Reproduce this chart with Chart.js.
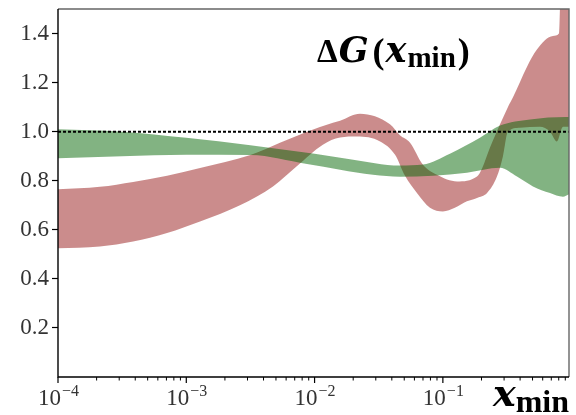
<!DOCTYPE html>
<html>
<head>
<meta charset="utf-8">
<script src="https://cdn.jsdelivr.net/npm/chart.js@4.4.1/dist/chart.umd.min.js"></script>
<style>
  html, body { margin: 0; padding: 0; background: #fff; }
  #wrap { width: 576px; height: 415px; }
</style>
</head>
<body>
<div id="wrap"><canvas id="chart" width="576" height="415"></canvas></div>
<script>
// ── Datos ───────────────────────────────────────────────────
const X_MIN = 1e-4;
const X_MAX = 0.962;

// banda verde: borde superior / inferior
const GREEN_UP_X = [1e-4, 3.16e-4, 1e-3, 3.16e-3, 0.01, 0.0189, 0.0463, 0.070, 0.1135, 0.1945, 0.279, 0.478, 0.91, 0.962];
const GREEN_UP_Y = [1.01, 1.0, 0.975, 0.945, 0.91, 0.888, 0.862, 0.866, 0.91, 0.975, 1.025, 1.05, 1.06, 1.06];
const GREEN_LO_X = [1e-4, 3.16e-4, 1e-3, 3.16e-3, 8.73e-3, 0.0158, 0.0285, 0.0463, 0.0838, 0.154, 0.279, 0.378, 0.504, 0.684, 0.863, 0.962];
const GREEN_LO_Y = [0.892, 0.90, 0.906, 0.905, 0.868, 0.845, 0.824, 0.816, 0.82, 0.833, 0.853, 0.817, 0.777, 0.75, 0.735, 0.745];

// banda roja: borde superior / inferior
const RED_UP_X = [1e-4, 2.12e-4, 3.85e-4, 7.08e-4, 1.28e-3, 3.16e-3, 5.37e-3, 8.73e-3, 0.0139, 0.0158, 0.0226, 0.0387, 0.0463, 0.0555, 0.070, 0.090, 0.129, 0.1845, 0.202, 0.233, 0.279, 0.321, 0.352, 0.453, 0.541, 0.721, 0.803, 0.832, 0.962];
const RED_UP_Y = [0.765, 0.775, 0.795, 0.82, 0.852, 0.905, 0.955, 1.0, 1.036, 1.045, 1.073, 1.03, 0.985, 0.955, 0.865, 0.824, 0.797, 0.817, 0.85, 0.935, 1.03, 1.1, 1.14, 1.265, 1.335, 1.39, 1.4, 1.6, 1.6];
const RED_LO_X = [1e-4, 2.12e-4, 3.85e-4, 7.08e-4, 1.28e-3, 2.62e-3, 4.74e-3, 7.3e-3, 0.0116, 0.0158, 0.0214, 0.0324, 0.0424, 0.0507, 0.0628, 0.0793, 0.10, 0.124, 0.154, 0.1845, 0.221, 0.264, 0.294, 0.321, 0.399, 0.571, 0.684, 0.774, 0.863, 0.962];
const RED_LO_Y = [0.525, 0.532, 0.552, 0.587, 0.634, 0.70, 0.777, 0.86, 0.947, 0.976, 0.98, 0.96, 0.906, 0.82, 0.75, 0.69, 0.675, 0.69, 0.716, 0.73, 0.75, 0.817, 0.9, 1.0, 1.016, 1.02, 1.0, 0.96, 1.02, 1.02];

// ejes
const Y_TICKS = [0.2, 0.4, 0.6, 0.8, 1.0, 1.2, 1.4];
const X_MAJOR = [1e-4, 1e-3, 1e-2, 1e-1];
const X_EXP   = ['\u22124', '\u22123', '\u22122', '\u22121'];
const REF_Y   = 1.0;

const RED   = 'rgba(139,0,0,0.45)';
const GREEN = 'rgba(0,100,0,0.49)';
const SERIF = '"Liberation Serif", "DejaVu Serif", serif';
const MATH  = '"DejaVu Serif", serif';

const pts = (xs, ys) => xs.map((x, i) => ({ x, y: ys[i] }));

// ── Marco, ticks del eje x y textos ─────────────────────────
const decoPlugin = {
  id: 'deco',
  afterDatasetsDraw(chart) {
    const { ctx, chartArea: a, scales: { x } } = chart;
    ctx.save();

    // marco: arriba/derecha gris, izquierda/abajo negro
    ctx.lineWidth = 1.4;
    ctx.strokeStyle = '#666';
    ctx.beginPath();
    ctx.moveTo(a.left, a.top); ctx.lineTo(a.right, a.top); ctx.lineTo(a.right, a.bottom);
    ctx.stroke();
    ctx.strokeStyle = '#000';
    ctx.beginPath();
    ctx.moveTo(a.left, a.top); ctx.lineTo(a.left, a.bottom); ctx.lineTo(a.right, a.bottom);
    ctx.stroke();

    // ticks menores y mayores del eje logarítmico
    ctx.lineWidth = 1;
    ctx.beginPath();
    X_MAJOR.forEach(d => {
      for (let k = 2; k <= 9; k++) {
        const v = k * d;
        if (v > X_MAX) break;
        const px = x.getPixelForValue(v);
        ctx.moveTo(px, a.bottom); ctx.lineTo(px, a.bottom + 3.5);
      }
    });
    ctx.stroke();
    ctx.lineWidth = 1.2;
    ctx.beginPath();
    X_MAJOR.forEach(v => {
      const px = x.getPixelForValue(v);
      ctx.moveTo(px, a.bottom); ctx.lineTo(px, a.bottom + 6);
    });
    ctx.stroke();

    // etiquetas 10^n
    ctx.fillStyle = '#333';
    ctx.textBaseline = 'alphabetic';
    ctx.textAlign = 'left';
    X_MAJOR.forEach((v, i) => {
      const px = x.getPixelForValue(v);
      ctx.font = '23px ' + SERIF;
      const w1 = ctx.measureText('10').width;
      ctx.font = '16px ' + SERIF;
      const w2 = ctx.measureText(X_EXP[i]).width;
      const x0 = px - (w1 + w2) / 2;
      ctx.font = '23px ' + SERIF;
      ctx.fillText('10', x0, a.bottom + 28);
      ctx.font = '16px ' + SERIF;
      ctx.fillText(X_EXP[i], x0 + w1 + 1, a.bottom + 19);
    });

    // título ΔG(x_min)
    ctx.fillStyle = '#000';
    let cx = a.left + 259;
    const by = a.top + 53;
    const put = (t, font, dy = 0, gap = 0) => {
      ctx.font = font;
      ctx.fillText(t, cx, by + dy);
      cx += ctx.measureText(t).width + gap;
    };
    put('\u0394', 'bold 33px ' + SERIF, 0, 1);
    put('G', 'bold italic 35px ' + MATH, 0, 4);
    put('(', 'bold 36px ' + SERIF, 1, 1);
    put('x', 'bold italic 35px ' + MATH, 0, 1);
    put('min', 'bold 29px ' + SERIF, 5, 2);
    put(')', 'bold 36px ' + SERIF, 1);

    // etiqueta del eje x
    cx = a.left + 435;
    const ly = a.bottom + 29;
    ctx.font = 'bold italic 38px ' + MATH;
    ctx.fillText('x', cx, ly);
    cx += ctx.measureText('x').width;
    ctx.font = 'bold 32px ' + SERIF;
    ctx.fillText('min', cx, ly + 6);

    ctx.restore();
  }
};

const chart = new Chart(document.getElementById('chart'), {
  type: 'line',
  data: {
    datasets: [
      {
        label: 'ref',
        data: [{ x: X_MIN, y: REF_Y }, { x: X_MAX, y: REF_Y }],
        borderColor: '#000', borderWidth: 2, borderDash: [3, 2],
        pointRadius: 0, fill: false
      },
      {
        label: 'verde sup',
        data: pts(GREEN_UP_X, GREEN_UP_Y),
        borderColor: 'transparent', borderWidth: 0, pointRadius: 0,
        backgroundColor: GREEN, fill: '+1', cubicInterpolationMode: 'monotone'
      },
      {
        label: 'verde inf',
        data: pts(GREEN_LO_X, GREEN_LO_Y),
        borderColor: 'transparent', borderWidth: 0, pointRadius: 0,
        fill: false, cubicInterpolationMode: 'monotone'
      },
      {
        label: 'rojo sup',
        data: pts(RED_UP_X, RED_UP_Y),
        borderColor: 'transparent', borderWidth: 0, pointRadius: 0,
        backgroundColor: RED, fill: '+1', cubicInterpolationMode: 'monotone'
      },
      {
        label: 'rojo inf',
        data: pts(RED_LO_X, RED_LO_Y),
        borderColor: 'transparent', borderWidth: 0, pointRadius: 0,
        fill: false, cubicInterpolationMode: 'monotone'
      }
    ]
  },
  options: {
    responsive: false,
    animation: false,
    layout: { padding: { top: 9, right: 7, left: 0, bottom: 0 } },
    plugins: { legend: { display: false }, tooltip: { enabled: false } },
    scales: {
      x: {
        type: 'logarithmic', min: X_MIN, max: X_MAX,
        ticks: { display: false },
        grid: { display: false },
        border: { display: false },
        afterFit(s) { s.height = 38; s.paddingLeft = 0; s.paddingRight = 0; }
      },
      y: {
        min: 0, max: 1.5,
        afterBuildTicks(s) { s.ticks = Y_TICKS.map(v => ({ value: v })); },
        ticks: {
          callback: v => v.toFixed(1),
          font: { family: SERIF, size: 23 },
          color: '#333', padding: 3
        },
        grid: { drawOnChartArea: false, tickLength: 6, tickColor: '#000', tickWidth: 1.2 },
        border: { display: false },
        afterFit(s) { s.width = 58; s.paddingTop = 0; s.paddingBottom = 0; }
      }
    }
  },
  plugins: [decoPlugin]
});
</script>
</body>
</html>
